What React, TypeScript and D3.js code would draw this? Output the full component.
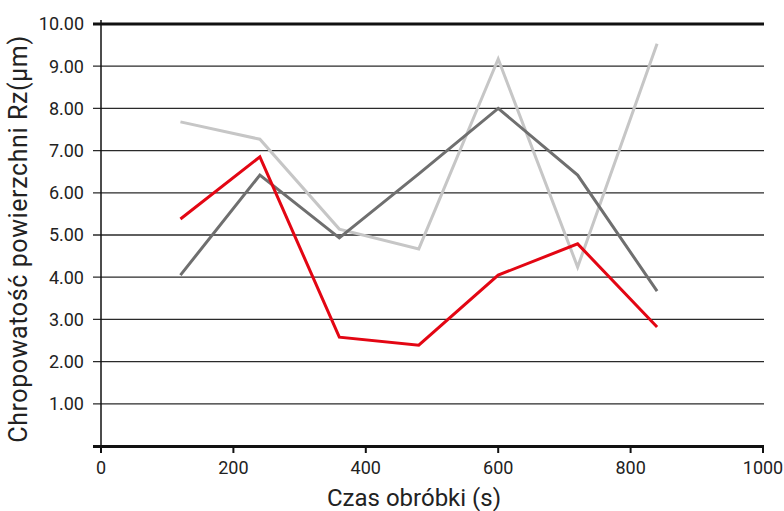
import React, { useRef, useEffect } from 'react';
import * as d3 from 'd3';

const times = [120, 240, 360, 480, 600, 720, 840];
const lightSeries = [7.68, 7.27, 5.14, 4.67, 9.17, 4.24, 9.53];
const darkSeries = [4.05, 6.42, 4.93, 6.45, 8.0, 6.42, 3.67];
const redSeries = [5.38, 6.85, 2.58, 2.39, 4.05, 4.79, 2.82];
const yTicks = [1, 2, 3, 4, 5, 6, 7, 8, 9, 10];
const xTicks = [0, 200, 400, 600, 800, 1000];

const App = () => {
  const ref = useRef<SVGSVGElement>(null);

  useEffect(() => {
    const width = 784;
    const height = 511;
    const left = 101;
    const right = 763;
    const top = 24;
    const bottom = 446;
    const font = 'Roboto, "DejaVu Sans", sans-serif';

    const svg = d3.select(ref.current);
    svg.selectAll('*').remove();
    svg.attr('width', width).attr('height', height);

    const x = d3.scaleLinear().domain([0, 1000]).range([left, right]);
    const y = d3.scaleLinear().domain([0, 10]).range([bottom, top]);

    // horizontal gridlines, extending left as ticks
    svg.append('g')
      .selectAll('line')
      .data(yTicks)
      .join('line')
      .attr('x1', left - 8)
      .attr('x2', right + 1)
      .attr('y1', d => y(d))
      .attr('y2', d => y(d))
      .attr('stroke', d => (d === 10 ? '#111' : '#2a2a2a'))
      .attr('stroke-width', d => (d === 10 ? 3 : 1.3));

    svg.append('g')
      .selectAll('text')
      .data(yTicks)
      .join('text')
      .attr('x', left - 17)
      .attr('y', d => y(d))
      .attr('dy', '0.36em')
      .attr('text-anchor', 'end')
      .attr('font-family', font)
      .attr('font-size', 18)
      .attr('fill', '#222')
      .text(d => d.toFixed(2));

    // y axis line
    svg.append('line')
      .attr('x1', left).attr('x2', left)
      .attr('y1', top - 4).attr('y2', bottom + 1)
      .attr('stroke', '#111').attr('stroke-width', 1.5);

    // x axis
    svg.append('line')
      .attr('x1', left - 8).attr('x2', right + 1)
      .attr('y1', bottom + 0.5).attr('y2', bottom + 0.5)
      .attr('stroke', '#111').attr('stroke-width', 3);

    svg.append('g')
      .selectAll('line')
      .data(xTicks)
      .join('line')
      .attr('x1', d => x(d)).attr('x2', d => x(d))
      .attr('y1', bottom).attr('y2', bottom + 7)
      .attr('stroke', '#111').attr('stroke-width', 2);

    svg.append('g')
      .selectAll('text')
      .data(xTicks)
      .join('text')
      .attr('x', d => x(d))
      .attr('y', bottom + 28)
      .attr('text-anchor', 'middle')
      .attr('font-family', font)
      .attr('font-size', 18)
      .attr('fill', '#222')
      .text(d => String(d));

    const line = d3.line<number>()
      .x((_, i) => x(times[i]))
      .y(d => y(d));

    const series = [
      { values: lightSeries, color: '#c6c6c6' },
      { values: darkSeries, color: '#6f6f6f' },
      { values: redSeries, color: '#e30613' },
    ];

    svg.append('g')
      .selectAll('path')
      .data(series)
      .join('path')
      .attr('d', d => line(d.values))
      .attr('fill', 'none')
      .attr('stroke', d => d.color)
      .attr('stroke-width', 3);

    svg.append('text')
      .attr('x', 414)
      .attr('y', 506)
      .attr('text-anchor', 'middle')
      .attr('font-family', font)
      .attr('font-size', 24)
      .attr('fill', '#222')
      .text('Czas obróbki (s)');

    svg.append('text')
      .attr('transform', `translate(27, 239) rotate(-90)`)
      .attr('text-anchor', 'middle')
      .attr('font-family', font)
      .attr('font-size', 25)
      .attr('letter-spacing', 0.6)
      .attr('fill', '#222')
      .text('Chropowatość powierzchni Rz(µm)');
  }, []);

  return <svg ref={ref} style={{ position: 'absolute', left: 0, top: 0 }}></svg>;
};

export default App;
